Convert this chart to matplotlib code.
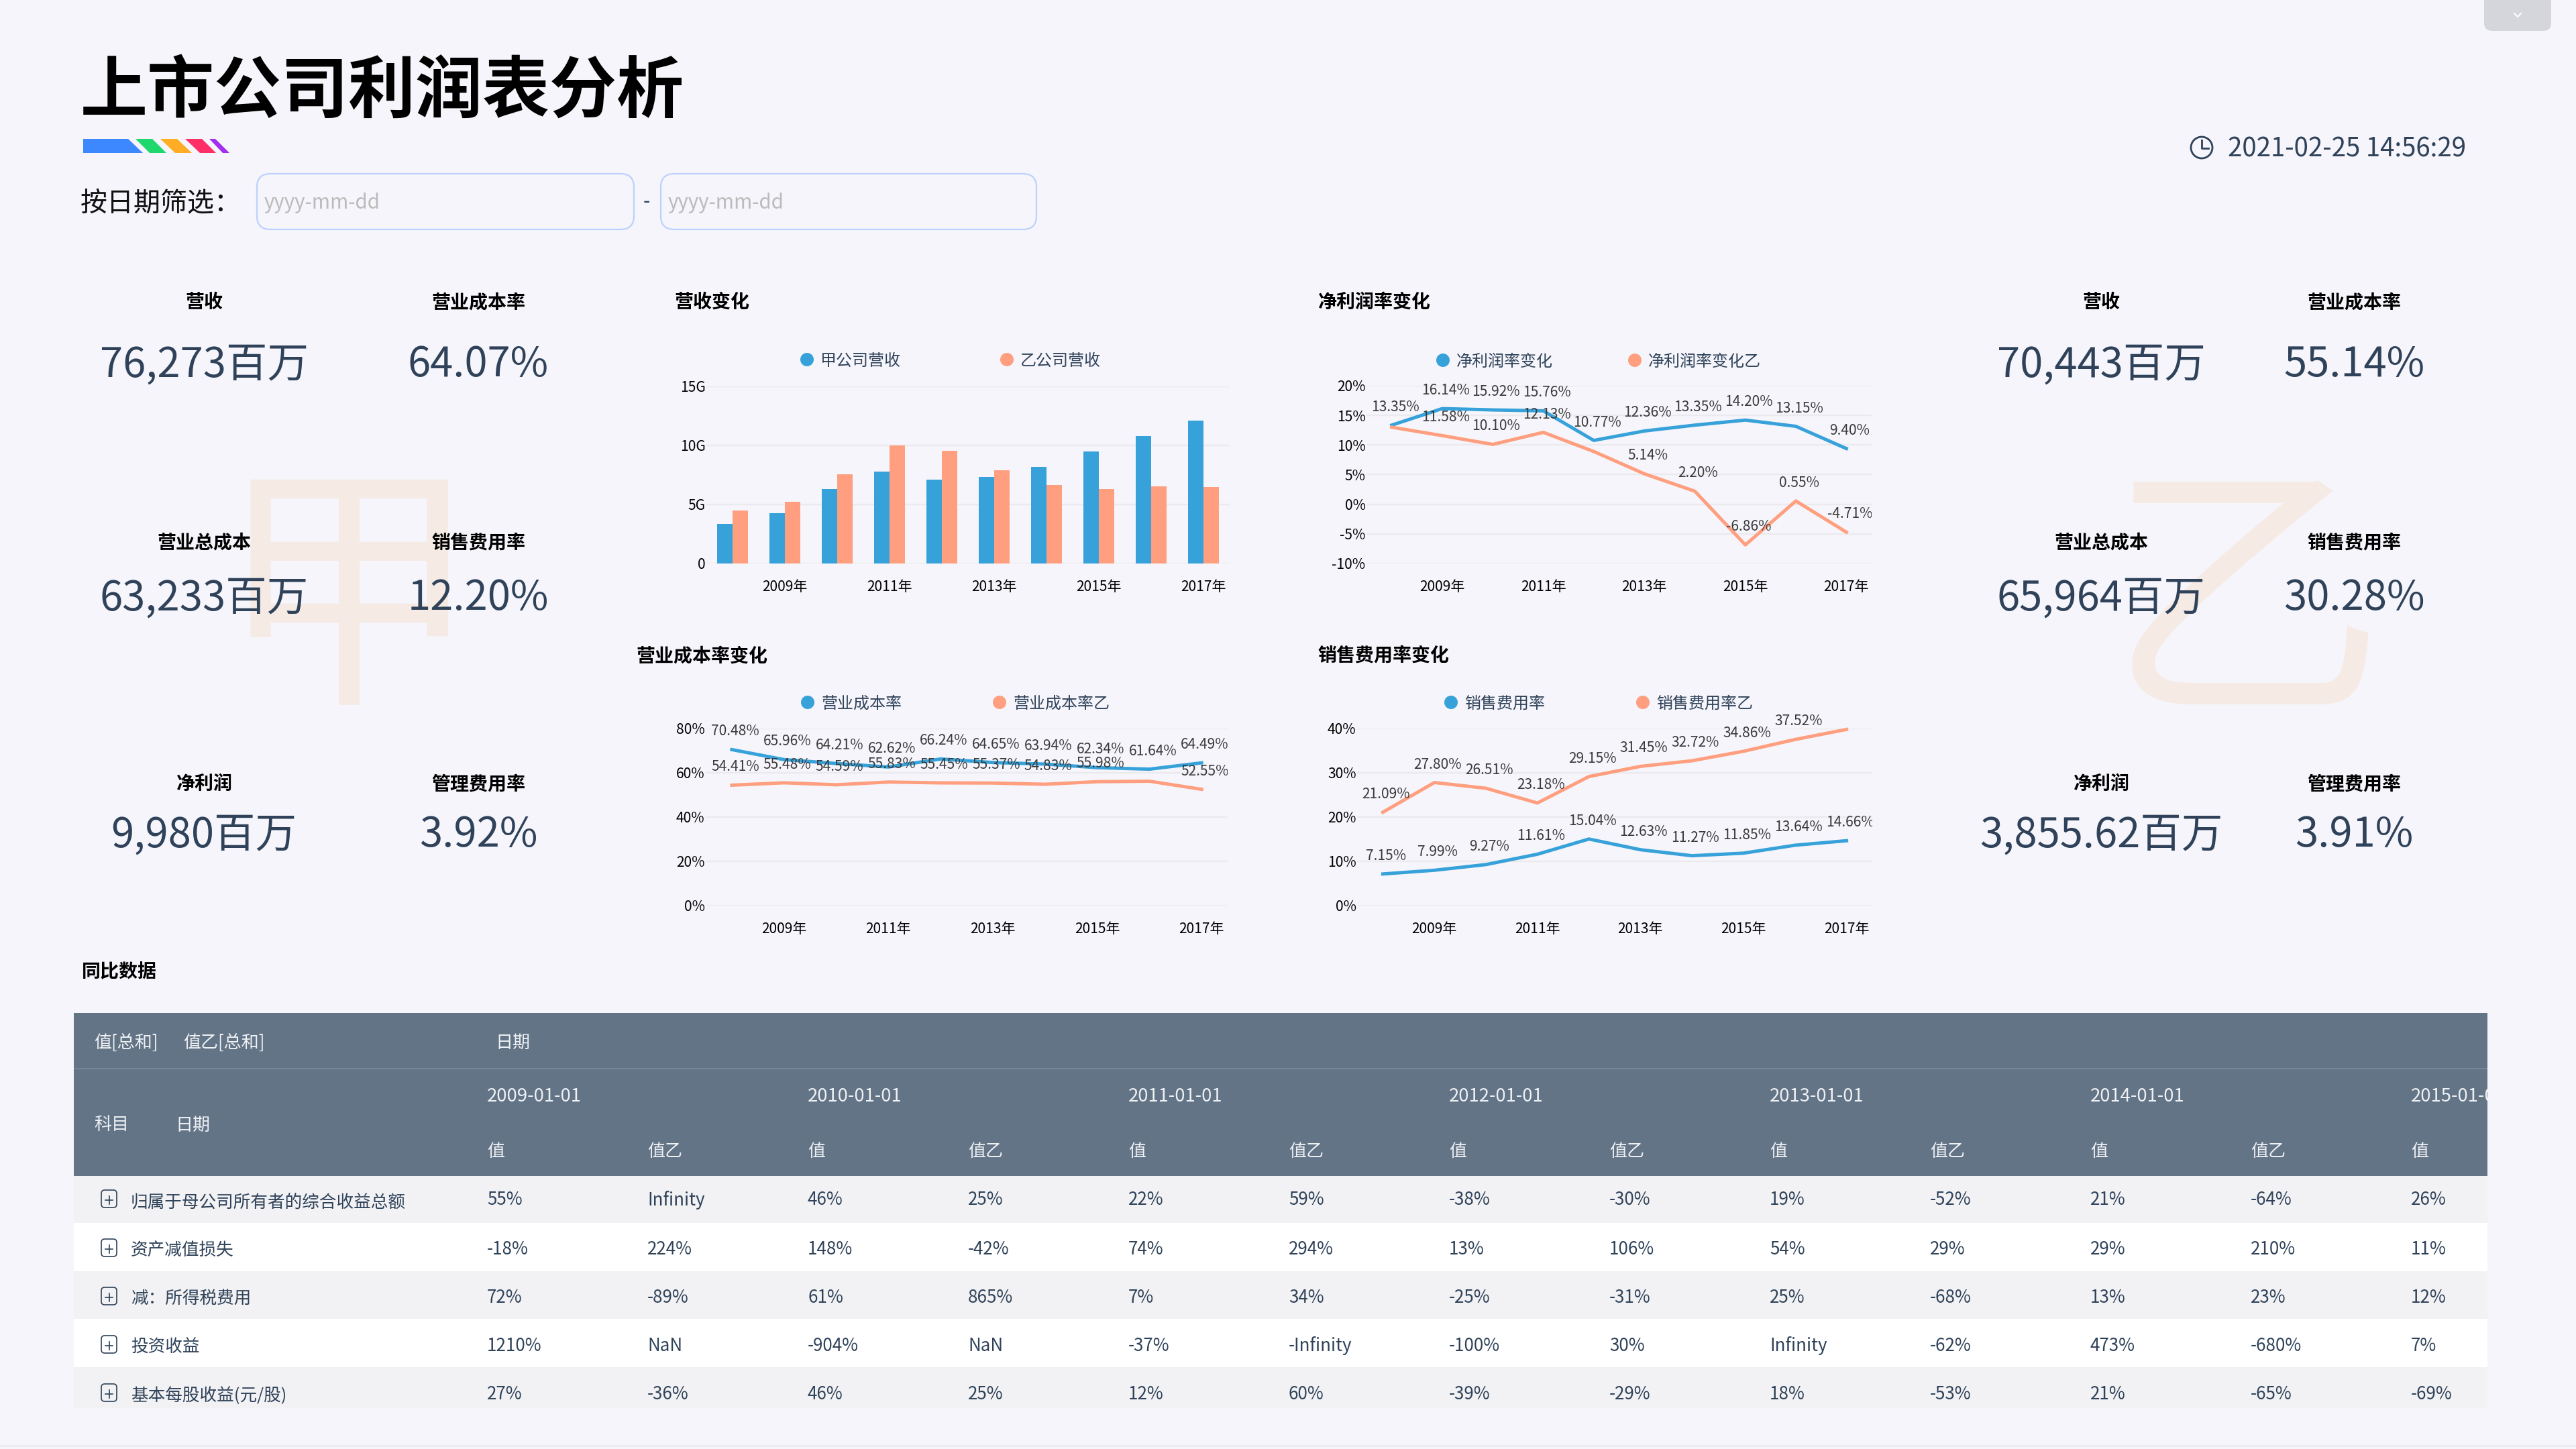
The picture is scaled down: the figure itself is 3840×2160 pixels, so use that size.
import matplotlib
matplotlib.use('Agg')
import matplotlib.pyplot as plt
from matplotlib.patches import Polygon, FancyBboxPatch, Circle, Rectangle

plt.rcParams['font.family'] = ['Noto Sans CJK SC', 'DejaVu Sans']

W, H = 3840, 2160
BG = '#f5f5fb'
BLUE = '#37a2da'
ORANGE = '#ff9f7f'
NAVY = '#2f4259'
GRID = '#ebebef'

# data
years = [2008, 2009, 2010, 2011, 2012, 2013, 2014, 2015, 2016, 2017]
year_ticks = ['2009年', '2011年', '2013年', '2015年', '2017年']

rev_a = [3.33, 4.28, 6.31, 7.79, 7.11, 7.34, 8.19, 9.5, 10.8, 12.1]
rev_b = [4.49, 5.23, 7.53, 9.98, 9.56, 7.91, 6.65, 6.3, 6.55, 6.5]

net_a = [13.35, 16.14, 15.92, 15.76, 10.77, 12.36, 13.35, 14.20, 13.15, 9.40]
net_b = [13.0, 11.58, 10.10, 12.13, 8.9, 5.14, 2.20, -6.86, 0.55, -4.71]

cost_a = [70.48, 65.96, 64.21, 62.62, 66.24, 64.65, 63.94, 62.34, 61.64, 64.49]
cost_b = [54.41, 55.48, 54.59, 55.83, 55.45, 55.37, 54.83, 55.98, 56.2, 52.55]

sale_a = [7.15, 7.99, 9.27, 11.61, 15.04, 12.63, 11.27, 11.85, 13.64, 14.66]
sale_b = [21.09, 27.80, 26.51, 23.18, 29.15, 31.45, 32.72, 34.86, 37.52, 39.8]

kpi_names_left = ['营收', '营业成本率', '营业总成本', '销售费用率', '净利润', '管理费用率']
kpi_vals_left = ['76,273百万', '64.07%', '63,233百万', '12.20%', '9,980百万', '3.92%']
kpi_vals_right = ['70,443百万', '55.14%', '65,964百万', '30.28%', '3,855.62百万', '3.91%']

table_dates = ['2009-01-01', '2010-01-01', '2011-01-01', '2012-01-01', '2013-01-01', '2014-01-01', '2015-01-01']
table_subjects = ['归属于母公司所有者的综合收益总额', '资产减值损失', '减：所得税费用', '投资收益', '基本每股收益(元/股)']
table_rows = [
    ['55%', 'Infinity', '46%', '25%', '22%', '59%', '-38%', '-30%', '19%', '-52%', '21%', '-64%', '26%'],
    ['-18%', '224%', '148%', '-42%', '74%', '294%', '13%', '106%', '54%', '29%', '29%', '210%', '11%'],
    ['72%', '-89%', '61%', '865%', '7%', '34%', '-25%', '-31%', '25%', '-68%', '13%', '23%', '12%'],
    ['1210%', 'NaN', '-904%', 'NaN', '-37%', '-Infinity', '-100%', '30%', 'Infinity', '-62%', '473%', '-680%', '7%'],
    ['27%', '-36%', '46%', '25%', '12%', '60%', '-39%', '-29%', '18%', '-53%', '21%', '-65%', '-69%'],
]


def pt(px):
    return px * 0.72


fig = plt.figure(figsize=(W / 100, H / 100), dpi=100, facecolor=BG)
bg = fig.add_axes([0, 0, 1, 1])
bg.set_xlim(0, W)
bg.set_ylim(H, 0)
bg.axis('off')


def label(x, y, s, size, color='black', ha='left', weight='normal', zorder=3):
    # CJK text sits a little high with va=center, so nudge it down
    bg.text(x, y + 3, s, fontsize=pt(size), color=color, ha=ha, va='center', weight=weight, zorder=zorder)


def box(x0, y0, x1, y1):
    return fig.add_axes([x0 / W, 1 - y1 / H, (x1 - x0) / W, (y1 - y0) / H])


# header
label(120, 134, '上市公司利润表分析', 100, weight='bold')
stripes = [
    ([(124, 207), (191, 207), (213, 228), (124, 228)], '#3d87ff'),
    ([(202, 207), (227, 207), (248, 228), (223, 228)], '#1ed76d'),
    ([(239, 207), (264, 207), (286, 228), (261, 228)], '#ffad24'),
    ([(276, 207), (301, 207), (322, 228), (298, 228)], '#ff2f68'),
    ([(312, 207), (321, 207), (342, 228), (332, 228)], '#a22ff0'),
]
for pts, c in stripes:
    bg.add_patch(Polygon(pts, closed=True, fc=c, ec='none'))

label(120, 300, '按日期筛选：', 40, color='#111111')
for x0, x1 in [(383, 945), (985, 1545)]:
    bg.add_patch(FancyBboxPatch((x0 + 20, 259 + 20), x1 - x0 - 40, 83 - 40,
                                boxstyle='round,pad=20,rounding_size=20', fc='none', ec='#bcd2fb', lw=1.6))
    label(x0 + 11, 300, 'yyyy-mm-dd', 29.5, color='#bbbbbb')
label(964, 298, '-', 30, color=NAVY, ha='center')

# top right button and clock
bg.add_patch(FancyBboxPatch((3715, -30), 76, 64, boxstyle='round,pad=12,rounding_size=12', fc='#d5d5dc', ec='none'))
bg.plot([3748, 3753, 3758], [20, 25, 20], color='white', lw=1.5)
bg.add_patch(Circle((3282, 220), 16, fc='none', ec=NAVY, lw=2))
bg.plot([3282, 3282, 3292], [209, 221, 221], color=NAVY, lw=2)
label(3321, 220, '2021-02-25 14:56:29', 38.4, color=NAVY)

# watermarks
label(520, 905, '甲', 392, color='#f5ebe4', ha='center', zorder=1)
label(3348, 912, '乙', 415, color='#f5ebe4', ha='center', zorder=1)

# kpi blocks
head_y = [448, 806, 1166]
val_y = [541, 889, 1242]
for cols, vals in [((304, 713), kpi_vals_left), ((3132, 3509), kpi_vals_right)]:
    for i in range(6):
        cx = cols[i % 2]
        label(cx, head_y[i // 2], kpi_names_left[i], 28, ha='center', weight='bold')
        label(cx, val_y[i // 2], vals[i], 61.5, color=NAVY, ha='center')

# section titles
label(1005, 448, '营收变化', 28, weight='bold')
label(1964, 448, '净利润率变化', 28, weight='bold')
label(948, 975, '营业成本率变化', 28, weight='bold')
label(1964, 975, '销售费用率变化', 28, weight='bold')
label(122, 1446, '同比数据', 28, weight='bold')


def legend(y, x1, t1, x2, t2):
    for x, c, t in [(x1, BLUE, t1), (x2, ORANGE, t2)]:
        bg.add_patch(Circle((x, y), 10, fc=c, ec='none'))
        label(x + 20, y - 1, t, 24, color=NAVY)


def style_axes(ax, yticks, ylabels):
    ax.patch.set_visible(False)
    for s in ax.spines.values():
        s.set_visible(False)
    ax.set_xlim(-0.5, 9.5)
    ax.set_yticks(yticks)
    ax.set_yticklabels(ylabels, fontsize=pt(21), color='black')
    ax.set_xticks(range(1, 10, 2))
    ax.set_xticklabels(year_ticks, fontsize=pt(21), color='black')
    ax.tick_params(axis='both', length=0)
    ax.tick_params(axis='y', pad=1)
    ax.tick_params(axis='x', pad=17)
    ax.grid(axis='y', color=GRID, lw=pt(2.5))
    ax.set_axisbelow(True)


def line_chart(rect, ylim, yticks, ylabels, a, b, hide_b):
    ax = box(*rect)
    style_axes(ax, yticks, ylabels)
    ax.set_ylim(*ylim)
    x = list(range(10))
    ax.plot(x, a, color=BLUE, lw=pt(5), clip_on=False)
    ax.plot(x, b, color=ORANGE, lw=pt(5), clip_on=False)
    for vals, hide in [(a, []), (b, hide_b)]:
        for i, v in enumerate(vals):
            if i in hide:
                continue
            ax.annotate('%.2f%%' % v, (i, v), xytext=(pt(5), pt(27)), textcoords='offset points',
                        fontsize=pt(21), color='#3a3a3a', ha='center', va='center',
                        clip_on=(i == 9), annotation_clip=False)
    return ax


# bar chart
ax1 = box(1053, 576, 1833, 840)
style_axes(ax1, [0, 5, 10, 15], ['0', '5G', '10G', '15G'])
ax1.set_ylim(0, 15)
ax1.bar([i - 0.15 for i in range(10)], rev_a, width=0.3, color=BLUE)
ax1.bar([i + 0.15 for i in range(10)], rev_b, width=0.3, color=ORANGE)
legend(536, 1203, '甲公司营收', 1501, '乙公司营收')

# line charts
line_chart((2037, 575, 2790, 840), (-10, 20), [-10, -5, 0, 5, 10, 15, 20],
           ['-10%', '-5%', '0%', '5%', '10%', '15%', '20%'], net_a, net_b, [0, 4])
legend(537, 2151, '净利润率变化', 2437, '净利润率变化乙')

line_chart((1052, 1086, 1830, 1350), (0, 80), [0, 20, 40, 60, 80],
           ['0%', '20%', '40%', '60%', '80%'], cost_a, cost_b, [8])
legend(1047, 1204, '营业成本率', 1490, '营业成本率乙')

line_chart((2023, 1086, 2791, 1350), (0, 40), [0, 10, 20, 30, 40],
           ['0%', '10%', '20%', '30%', '40%'], sale_a, sale_b, [9])
legend(1047, 2163, '销售费用率', 2449, '销售费用率乙')

# pivot table
tb = box(110, 1510, 3708, 2099)
tb.set_xlim(110, 3708)
tb.set_ylim(2099, 1510)
tb.axis('off')
HEAD = '#647487'
HEAD_TXT = '#eef1f4'
tb.add_patch(Rectangle((110, 1510), 3598, 243, fc=HEAD, ec='none'))
tb.plot([110, 3708], [1593, 1593], color='#76869a', lw=1.5)
row_top = [1753, 1823, 1895, 1966, 2038]
row_bot = [1823, 1895, 1966, 2038, 2099]
row_val_y = [1787, 1860, 1932, 2004, 2076]
for i in range(5):
    fc = '#f2f2f4' if i % 2 == 0 else 'white'
    tb.add_patch(Rectangle((110, row_top[i]), 3598, row_bot[i] - row_top[i], fc=fc, ec='none'))


def cell(x, y, s, color, size=26):
    tb.text(x, y + 2, s, fontsize=pt(size), color=color, ha='left', va='center', clip_on=True)


cell(140, 1552, '值[总和]', HEAD_TXT)
cell(273, 1552, '值乙[总和]', HEAD_TXT)
cell(738, 1552, '日期', HEAD_TXT)
cell(140, 1675, '科目', HEAD_TXT)
cell(261, 1675, '日期', HEAD_TXT)
COL0, COL1, STEP = 726, 965, 478
for j, d in enumerate(table_dates):
    cell(COL0 + STEP * j, 1633, d, HEAD_TXT, size=27.5)
    cell(COL0 + STEP * j, 1714, '值', HEAD_TXT)
    if j < 6:
        cell(COL1 + STEP * j, 1714, '值乙', HEAD_TXT)
for i, subj in enumerate(table_subjects):
    y = row_val_y[i]
    tb.add_patch(FancyBboxPatch((155, y - 9), 15, 18, boxstyle='round,pad=4,rounding_size=5', fc='none', ec=NAVY, lw=1.2))
    tb.plot([157, 168], [y + 2, y + 2], color=NAVY, lw=1.2)
    tb.plot([162.5, 162.5], [y - 4, y + 8], color=NAVY, lw=1.2)
    cell(195, y + 3, subj, NAVY, size=25.6)
    for k, v in enumerate(table_rows[i]):
        x = COL0 + STEP * (k // 2) if k % 2 == 0 else COL1 + STEP * (k // 2)
        cell(x, y, v, NAVY)

bg.plot([0, W], [2155, 2155], color='#ececf2', lw=2)

fig.savefig('out.png', dpi=100, facecolor=BG)
